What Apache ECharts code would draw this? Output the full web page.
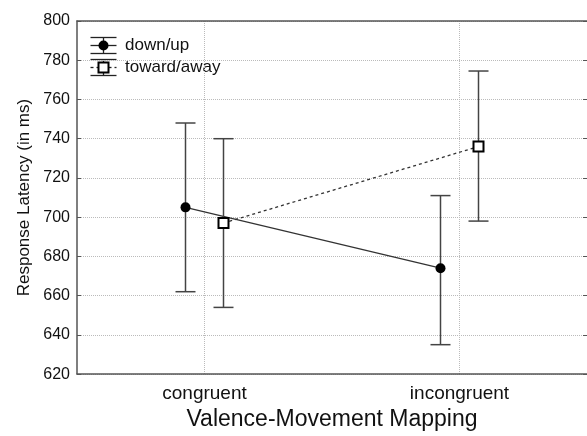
<!DOCTYPE html>
<html>
<head>
<meta charset="utf-8">
<script src="https://cdn.jsdelivr.net/npm/echarts@6/dist/echarts.min.js"></script>
<style>
  html, body { margin: 0; padding: 0; background: #fff; }
  #chart { width: 587px; height: 436px; }
</style>
</head>
<body>
<div id="chart"></div>
<script>
const categories = ['congruent', 'incongruent']
const yTicks = [620, 640, 660, 680, 700, 720, 740, 760, 780, 800]

// down/up: mean and error bar ends
const downUpMean = [705, 674]
const downUpLow = [662, 635]
const downUpHigh = [748, 711]

// toward/away: mean and error bar ends
const towardMean = [697, 736]
const towardLow = [654, 698]
const towardHigh = [740, 774.5]

const font = '"Liberation Sans", Arial, sans-serif'
const barColor = '#444'

function errorBarSeries (name, mean, low, high, offset, marker, dashed) {
  return {
    type: 'custom',
    name,
    data: categories.map((c, i) => [i, mean[i], low[i], high[i]]),
    encode: { x: 0, y: [1, 2, 3] },
    renderItem (params, api) {
      const i = api.value(0)
      const p = api.coord([i, api.value(1)])
      const lo = api.coord([i, api.value(2)])
      const hi = api.coord([i, api.value(3)])
      const x = p[0] + offset
      const children = []
      if (i < mean.length - 1) {
        const q = api.coord([i + 1, mean[i + 1]])
        children.push({
          type: 'line',
          shape: { x1: x, y1: p[1], x2: q[0] + offset, y2: q[1] },
          style: { stroke: '#333', lineWidth: 1.3, lineDash: dashed ? [3, 3] : null }
        })
      }
      const bar = { stroke: barColor, lineWidth: 1.5 }
      children.push(
        { type: 'line', shape: { x1: x, y1: lo[1], x2: x, y2: hi[1] }, style: bar },
        { type: 'line', shape: { x1: x - 10, y1: lo[1], x2: x + 10, y2: lo[1] }, style: bar },
        { type: 'line', shape: { x1: x - 10, y1: hi[1], x2: x + 10, y2: hi[1] }, style: bar }
      )
      if (marker === 'circle') {
        children.push({ type: 'circle', shape: { cx: x, cy: p[1], r: 5 }, style: { fill: '#000' } })
      } else {
        children.push({ type: 'rect', shape: { x: x - 5, y: p[1] - 5, width: 10, height: 10 }, style: { fill: '#fff', stroke: '#000', lineWidth: 2 } })
      }
      return { type: 'group', children }
    },
    z: 3
  }
}

function legendItem (top, label, marker, dashed) {
  const cx = 103.5
  const bar = { stroke: '#222', lineWidth: 1.3 }
  const icon = marker === 'circle'
    ? { type: 'circle', shape: { cx, cy: top, r: 5 }, style: { fill: '#000' } }
    : { type: 'rect', shape: { x: cx - 5, y: top - 5, width: 10, height: 10 }, style: { fill: '#fff', stroke: '#000', lineWidth: 2 } }
  return [
    { type: 'line', shape: { x1: cx - 13, y1: top - 8, x2: cx + 13, y2: top - 8 }, style: bar },
    { type: 'line', shape: { x1: cx - 13, y1: top + 8, x2: cx + 13, y2: top + 8 }, style: bar },
    { type: 'line', shape: { x1: cx, y1: top - 8, x2: cx, y2: top + 8 }, style: bar },
    { type: 'line', shape: { x1: cx - 13, y1: top, x2: cx + 13, y2: top }, style: { stroke: '#222', lineWidth: 1.3, lineDash: dashed ? [3, 3] : null } },
    icon,
    { type: 'text', x: 125, y: top, style: { text: label, font: '17px ' + font, fill: '#111', verticalAlign: 'middle' } }
  ]
}

const chart = echarts.init(document.getElementById('chart'))

const gridLine = { show: true, lineStyle: { color: '#bbb', type: 'dotted', width: 1 } }

chart.setOption({
  animation: false,
  backgroundColor: '#fff',
  // plot box runs a little past the right edge of the picture
  grid: { left: 77, top: 21, width: 512, bottom: 60 },
  xAxis: [
    {
      type: 'category',
      data: categories,
      boundaryGap: true,
      name: 'Valence-Movement Mapping',
      nameLocation: 'middle',
      nameGap: 33,
      nameTextStyle: { fontFamily: font, fontSize: 23, color: '#111' },
      axisLine: { lineStyle: { color: '#555', width: 1.5 } },
      axisTick: { inside: true, alignWithLabel: true, length: 4, lineStyle: { color: '#555' } },
      axisLabel: { fontFamily: font, fontSize: 19, color: '#111', margin: 10 },
      splitLine: { ...gridLine, alignWithLabel: true }
    },
    {
      type: 'category',
      data: categories,
      position: 'top',
      axisLine: { lineStyle: { color: '#555', width: 1.5 } },
      axisTick: { inside: true, alignWithLabel: true, length: 4, lineStyle: { color: '#555' } },
      axisLabel: { show: false },
      splitLine: { show: false }
    }
  ],
  yAxis: [
    {
      type: 'value',
      min: yTicks[0],
      max: yTicks[yTicks.length - 1],
      interval: 20,
      name: 'Response Latency (in ms)',
      nameLocation: 'middle',
      nameGap: 44,
      nameTextStyle: { fontFamily: font, fontSize: 17, color: '#111' },
      axisLine: { show: true, lineStyle: { color: '#555', width: 1.5 } },
      axisTick: { show: true, inside: true, length: 4, lineStyle: { color: '#555' } },
      axisLabel: { fontFamily: font, fontSize: 16, color: '#111', margin: 7 },
      splitLine: gridLine
    },
    {
      type: 'value',
      position: 'right',
      min: yTicks[0],
      max: yTicks[yTicks.length - 1],
      interval: 20,
      axisLine: { show: false },
      axisTick: { show: true, inside: true, length: 4, lineStyle: { color: '#555' } },
      axisLabel: { show: false },
      splitLine: { show: false }
    }
  ],
  graphic: [
    ...legendItem(45.5, 'down/up', 'circle', false),
    ...legendItem(67.5, 'toward/away', 'square', true)
  ],
  series: [
    errorBarSeries('down/up', downUpMean, downUpLow, downUpHigh, -19, 'circle', false),
    errorBarSeries('toward/away', towardMean, towardLow, towardHigh, 19, 'square', true)
  ]
})
</script>
</body>
</html>
